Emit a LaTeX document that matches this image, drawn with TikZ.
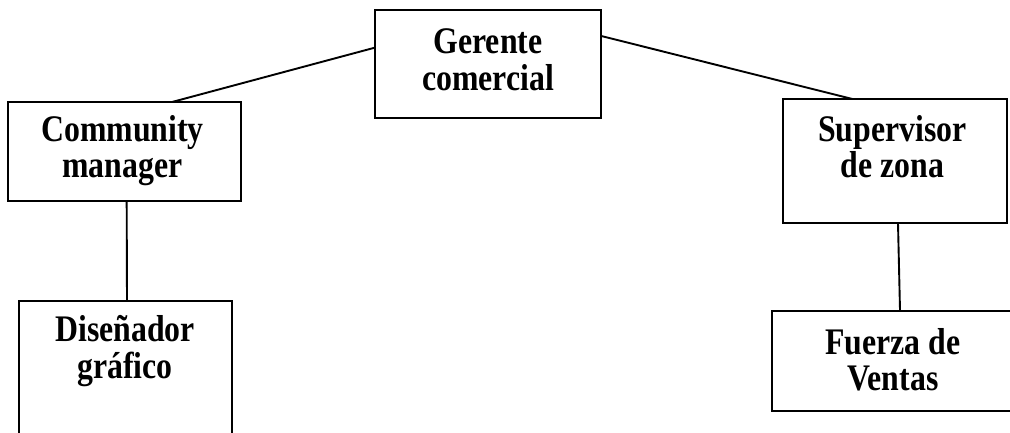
\documentclass[tikz,border=0pt]{standalone}
\usepackage{fontspec}
\usepackage{graphicx}
\setmainfont{Liberation Serif}
\usetikzlibrary{calc}
% two centred lines, set a little taller than wide
\newcommand{\tallpair}[1]{\scalebox{1}[1.18]{\begin{tabular}{@{}c@{}}#1\end{tabular}}}
\begin{document}
\begin{tikzpicture}[x=1pt, y=-1pt,
    box/.style={draw=black, line width=2.3pt, rectangle, inner sep=0pt, outer sep=0pt},
    lbl/.style={anchor=north, inner sep=0pt,
                font=\fontsize{31.8}{30.5}\selectfont\bfseries},
    link/.style={draw=black, line width=1.9pt}]
  \useasboundingbox (0,0) rectangle (1010,433);
  \clip (0,0) rectangle (1010,433);
  \fill[white] (0,0) rectangle (1010,433);

  % boxes of the chart
  \node[box, minimum width=226pt,   minimum height=107.7pt] (g)  at (487.7,63.85)  {};
  \node[box, minimum width=232.7pt, minimum height=98.7pt]  (cm) at (124.35,151.35) {};
  \node[box, minimum width=223.7pt, minimum height=123.7pt] (sz) at (894.85,160.85) {};
  \node[box, minimum width=213pt,   minimum height=149.3pt] (dg) at (125.5,375.35) {};
  \node[box, minimum width=253pt,   minimum height=100pt]   (fv) at (898.5,360.7)  {};

  % titles
  \node[lbl] (gT)  at (488,27.8)    {\tallpair{Gerente\\comercial}};
  \node[lbl] (cmT) at (122.5,115.5) {\tallpair{Community\\manager}};
  \node[lbl] (szT) at (892.5,114.8) {\tallpair{Supervisor\\de zona}};
  \node[lbl] (dgT) at (125,314.8)   {\tallpair{Diseñador\\gráfico}};
  \node[lbl] (fvT) at (893,328.1)   {\tallpair{Fuerza de\\Ventas}};

  % connectors
  \draw[link] ($(g.north west)!0.35!(g.south west)$) -- ($(cm.north west)!0.705!(cm.north east)$);
  \draw[link] ($(g.north east)!0.24!(g.south east)$) -- ($(sz.north west)!0.31!(sz.north east)$);
  \draw[link] ($(cm.south west)!0.51!(cm.south east)$) -- ($(dg.north west)!0.507!(dg.north east)$);
  \draw[link] ($(sz.south west)!0.514!(sz.south east)$) -- ($(fv.north west)!0.506!(fv.north east)$);
\end{tikzpicture}
\end{document}
